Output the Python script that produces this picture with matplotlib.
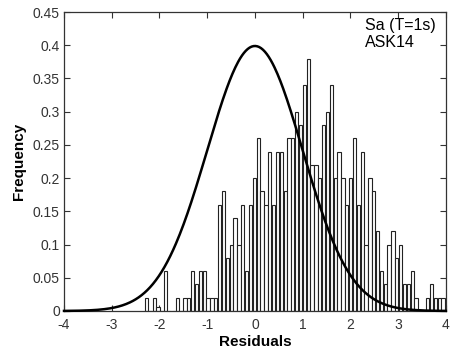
import numpy as np
import matplotlib
matplotlib.use('Agg')
import matplotlib.pyplot as plt

plt.rcParams['font.family'] = ['Liberation Sans', 'DejaVu Sans']

# Histogram of residuals (normalized frequency), bins
bin_start = -2.272
bin_width = 0.0807
freq = [0.02, 0, 0.02, 0.006, 0, 0.06, 0, 0, 0.02, 0, 0.02, 0.02,
        0.06, 0.04, 0.06, 0.06, 0.02, 0.02, 0.02,
        0.16, 0.18, 0.08, 0.10, 0.14, 0.10, 0.16, 0.06, 0.16, 0.20, 0.26,
        0.18, 0.16, 0.24, 0.16, 0.24, 0.24, 0.18, 0.26, 0.26, 0.30, 0.28, 0.34, 0.38,
        0.22, 0.22, 0.20, 0.28, 0.30, 0.34, 0.20, 0.24, 0.20, 0.16, 0.20, 0.26, 0.16, 0.24,
        0.10, 0.20, 0.18, 0.12, 0.06, 0.04, 0.10, 0.12, 0.08, 0.10, 0.04, 0.04, 0.06, 0.02,
        0, 0, 0.02, 0.04, 0.02, 0.02, 0.02]

# Standard normal reference curve
mu = 0.0
sigma = 1.0

x_ticks = [-4, -3, -2, -1, 0, 1, 2, 3, 4]
y_ticks = [0, 0.05, 0.1, 0.15, 0.2, 0.25, 0.3, 0.35, 0.4, 0.45]
y_labels = ['0', '0.05', '0.1', '0.15', '0.2', '0.25', '0.3', '0.35', '0.4', '0.45']

fig = plt.figure(figsize=(4.54, 3.55), dpi=100)
ax = fig.add_axes([0.141, 0.124, 0.841, 0.842])

centers = bin_start + bin_width * np.arange(len(freq))
ax.bar(centers, freq, width=bin_width * 0.85, color='white',
       edgecolor='#222222', linewidth=0.8, zorder=2)

xs = np.linspace(-4, 4, 400)
pdf = np.exp(-0.5 * ((xs - mu) / sigma) ** 2) / (sigma * np.sqrt(2 * np.pi))
ax.plot(xs, pdf, color='black', linewidth=1.8, zorder=3, clip_on=False)

ax.set_xlim(-4, 4)
ax.set_ylim(0, 0.45)
ax.set_xticks(x_ticks)
ax.set_xticklabels([str(t) for t in x_ticks])
ax.set_yticks(y_ticks)
ax.set_yticklabels(y_labels)
ax.tick_params(direction='in', top=True, right=True, length=4, width=0.8,
               labelsize=10, labelcolor='#333333', color='#333333')
ax.tick_params(axis='x', pad=5)
ax.tick_params(axis='y', pad=3)

for s in ax.spines.values():
    s.set_color('#333333')
    s.set_linewidth(0.9)

ax.set_xlabel('Residuals', fontsize=11, fontweight='bold', labelpad=2)
ax.set_ylabel('Frequency', fontsize=11, fontweight='bold', labelpad=5)

ax.text(2.3, 0.441, 'Sa (T=1s)\nASK14', ha='left', va='top',
        fontsize=11.5, linespacing=1.2)

fig.savefig('out.png', dpi=100)
